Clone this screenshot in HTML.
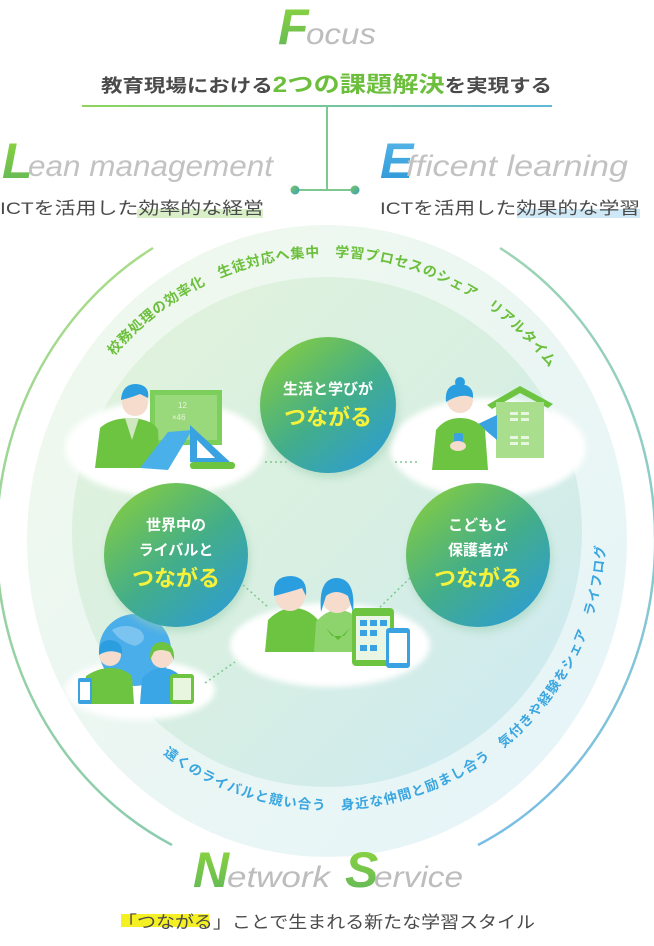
<!DOCTYPE html>
<html><head><meta charset="utf-8">
<style>
html,body{margin:0;padding:0;background:#fff;}
svg{display:block;}
text{font-family:"Liberation Sans","Noto Sans CJK JP",sans-serif;}
</style></head>
<body>
<svg width="654" height="946" viewBox="0 0 654 946" xmlns="http://www.w3.org/2000/svg">
<defs>
  <linearGradient id="gF" x1="0" y1="0" x2="0" y2="1"><stop offset="0" stop-color="#8fd63c"/><stop offset="1" stop-color="#5fb65a"/></linearGradient>
  <linearGradient id="gE" x1="0" y1="0" x2="0" y2="1"><stop offset="0" stop-color="#5ab8e8"/><stop offset="1" stop-color="#2a96d6"/></linearGradient>
  <linearGradient id="gLine" x1="0" y1="0" x2="1" y2="0"><stop offset="0" stop-color="#8ed45a"/><stop offset="1" stop-color="#5fb8d8"/></linearGradient>
  <linearGradient id="gDot" x1="0" y1="0" x2="1" y2="1"><stop offset="0" stop-color="#7cc860"/><stop offset="1" stop-color="#3aa0b8"/></linearGradient>
  <linearGradient id="gArcL" x1="0" y1="0" x2="0" y2="1"><stop offset="0" stop-color="#a8dc88"/><stop offset="1" stop-color="#8cccb0"/></linearGradient>
  <linearGradient id="gArcR" x1="0" y1="0" x2="0" y2="1"><stop offset="0" stop-color="#9cd4b4"/><stop offset="1" stop-color="#78bee6"/></linearGradient>
  <linearGradient id="gBand" x1="0" y1="0" x2="1" y2="1"><stop offset="0" stop-color="#f0f9ec"/><stop offset="1" stop-color="#e6f4fa"/></linearGradient>
  <linearGradient id="gInner" x1="0" y1="0" x2="1" y2="1"><stop offset="0" stop-color="#e2f3dc"/><stop offset="0.5" stop-color="#d8efe2"/><stop offset="1" stop-color="#cce9f3"/></linearGradient>
  <linearGradient id="gC" x1="0.15" y1="0.1" x2="0.85" y2="0.95"><stop offset="0" stop-color="#7cc94a"/><stop offset="0.5" stop-color="#44ae88"/><stop offset="1" stop-color="#2e9ecf"/></linearGradient>
  <filter id="blur" x="-20%" y="-20%" width="140%" height="140%"><feGaussianBlur stdDeviation="3"/></filter>
  <filter id="sh" x="-20%" y="-20%" width="140%" height="140%"><feGaussianBlur stdDeviation="4"/></filter>
  <path id="topPath" d="M114,356 A278,278 0 0 1 562,386"/>
  <path id="botPath" d="M163,754 A276,276 0 0 0 604,506"/>
</defs>

<!-- Header -->
<text x="278" y="44" font-size="50" font-style="italic" font-weight="bold" fill="url(#gF)">F</text>
<text x="306" y="44" font-size="30" font-style="italic" fill="#bdbdbd" textLength="70" lengthAdjust="spacingAndGlyphs">ocus</text>
<text x="101" y="92" font-size="18" font-weight="bold" fill="#4a4a4a" textLength="451" lengthAdjust="spacingAndGlyphs">教育現場における<tspan font-size="22" fill="#6cbf3c">2つの課題解決</tspan>を実現する</text>
<rect x="82" y="105" width="470" height="2" fill="url(#gLine)"/>
<rect x="326" y="106" width="2" height="85" fill="#7cc890"/>
<rect x="294" y="189" width="61" height="2" fill="#7cc890"/>
<circle cx="295" cy="190" r="4.5" fill="url(#gDot)"/>
<circle cx="355" cy="190" r="4.5" fill="url(#gDot)"/>

<text x="2" y="178" font-size="50" font-style="italic" font-weight="bold" fill="url(#gF)">L</text>
<text x="28" y="176" font-size="30" font-style="italic" fill="#c2c2c2" textLength="245" lengthAdjust="spacingAndGlyphs">ean management</text>
<rect x="137" y="209" width="126" height="9" fill="#d8efc8"/>
<text x="0" y="214" font-size="17" fill="#4a4a4a" textLength="264" lengthAdjust="spacingAndGlyphs">ICTを活用した効率的な経営</text>

<text x="380" y="178" font-size="50" font-style="italic" font-weight="bold" fill="url(#gE)">E</text>
<text x="406" y="176" font-size="30" font-style="italic" fill="#c2c2c2" textLength="222" lengthAdjust="spacingAndGlyphs">fficent learning</text>
<rect x="517" y="209" width="123" height="9" fill="#cfe8f6"/>
<text x="380" y="214" font-size="17" fill="#4a4a4a" textLength="260" lengthAdjust="spacingAndGlyphs">ICTを活用した効果的な学習</text>

<!-- Big circle -->
<ellipse cx="327" cy="541" rx="300" ry="316" fill="url(#gBand)"/>
<circle cx="327" cy="532" r="255" fill="url(#gInner)"/>
<path d="M153,248 A312,338 0 0 0 172,845" fill="none" stroke="url(#gArcL)" stroke-width="2.5"/>
<path d="M500,248 A312,338 0 0 1 478,845" fill="none" stroke="url(#gArcR)" stroke-width="2.5"/>

<text font-size="14" font-weight="bold" fill="#6cbf3c"><textPath href="#topPath" textLength="500" lengthAdjust="spacing">校務処理の効率化　生徒対応へ集中　学習プロセスのシェア　リアルタイム</textPath></text>
<text font-size="13.5" font-weight="bold" fill="#3aa6e0"><textPath href="#botPath" textLength="600" lengthAdjust="spacing">遠くのライバルと競い合う　身近な仲間と励まし合う　気付きや経験をシェア　ライフログ</textPath></text>

<!-- clouds -->
<g filter="url(#blur)" fill="#ffffff">
  <ellipse cx="165" cy="448" rx="100" ry="48"/>
  <ellipse cx="488" cy="448" rx="98" ry="50"/>
  <ellipse cx="330" cy="645" rx="100" ry="42"/>
  <ellipse cx="140" cy="690" rx="75" ry="30"/>
</g>

<!-- dotted connectors -->
<g stroke="#7cc890" stroke-width="1.5" stroke-dasharray="2,3" fill="none">
  <line x1="265" y1="462" x2="290" y2="462"/>
  <line x1="395" y1="462" x2="420" y2="462"/>
  <line x1="243" y1="585" x2="268" y2="607"/>
  <line x1="410" y1="578" x2="375" y2="612"/>
  <line x1="205" y1="683" x2="235" y2="662"/>
</g>

<!-- teacher -->
<rect x="150" y="390" width="72" height="55" fill="#7ccf5a"/>
<rect x="155" y="395" width="62" height="45" fill="#9ad87c"/>
<text x="178" y="408" font-size="8" fill="#e6f5dc">12</text>
<text x="172" y="420" font-size="8" fill="#e6f5dc">×46</text>
<path d="M95,468 L100,428 Q110,418 132,418 Q154,420 158,430 L160,468Z" fill="#6cc440"/>
<path d="M125,418 L132,440 L139,418Z" fill="#cfe8c0"/>
<circle cx="135" cy="403" r="13" fill="#f5dccc"/>
<path d="M121,400 Q122,384 136,384 Q150,385 148,398 L140,394 Q130,398 121,400Z" fill="#2b9ee0"/>
<path d="M140,468 L168,432 L192,430 L168,470Z" fill="#4ab0ea"/>
<path d="M190,425 L230,462 L190,462Z" fill="#3aa2e0"/>
<path d="M197,440 L215,458 L197,458Z" fill="#ffffff"/>
<rect x="190" y="462" width="45" height="7" rx="3" fill="#6cc440"/>

<!-- mother & house -->
<path d="M487,405 L520,386 L553,404 L548,408 L520,393 L492,409Z" fill="#6cc440"/>
<rect x="496" y="402" width="48" height="56" fill="#a9df8c"/>
<g fill="#e8f6e0"><rect x="510" y="412" width="8" height="3"/><rect x="521" y="412" width="8" height="3"/><rect x="510" y="418" width="8" height="3"/><rect x="521" y="418" width="8" height="3"/><rect x="510" y="436" width="8" height="3"/><rect x="521" y="436" width="8" height="3"/><rect x="510" y="442" width="8" height="3"/><rect x="521" y="442" width="8" height="3"/></g>
<path d="M478,424 L497,415 L497,440Z" fill="#3aa2e0"/>
<path d="M432,470 L436,430 Q445,418 460,418 Q476,418 485,430 L488,470Z" fill="#6cc440"/>
<circle cx="460" cy="400" r="13" fill="#f5dccc"/>
<path d="M446,402 Q444,384 460,384 Q474,385 473,398 Q462,392 446,402Z" fill="#2b9ee0"/>
<circle cx="460" cy="382" r="5" fill="#2b9ee0"/>
<rect x="454" y="433" width="9" height="14" rx="2" fill="#3aa2e0"/>
<ellipse cx="458" cy="446" rx="8" ry="5" fill="#f5dccc"/>

<!-- globe group -->
<circle cx="135" cy="650" r="36" fill="#4aaeea"/>
<path d="M112,630 Q125,622 140,630 Q150,640 135,646 Q120,642 112,630Z" fill="#7cc4f0"/>
<path d="M82,704 L86,676 Q98,668 110,668 Q124,668 132,676 L134,704Z" fill="#6cc440"/>
<path d="M140,704 L142,678 Q152,668 162,668 Q174,668 182,678 L184,704Z" fill="#3aa6e6"/>
<circle cx="110" cy="655" r="11" fill="#f5dccc"/>
<path d="M99,655 Q98,640 110,640 Q123,641 122,654 Q110,648 99,655Z" fill="#2b9ee0"/>
<circle cx="162" cy="657" r="11" fill="#f5dccc"/>
<path d="M150,660 Q149,642 162,642 Q175,643 174,660 L170,652 Q160,648 154,652Z" fill="#6cc440"/>
<rect x="78" y="678" width="14" height="26" rx="2" fill="#3aa2e0"/><rect x="80" y="682" width="10" height="18" fill="#fff"/>
<rect x="170" y="674" width="24" height="30" rx="3" fill="#6cc440"/><rect x="173" y="678" width="18" height="22" fill="#e8f6e0"/>

<!-- students -->
<path d="M265,652 L268,620 Q280,608 293,608 Q308,608 318,620 L320,652Z" fill="#6cc440"/>
<circle cx="290" cy="596" r="15" fill="#f5dccc"/>
<path d="M274,596 Q272,576 291,576 Q308,577 306,596 L302,588 Q290,592 274,596Z" fill="#2b9ee0"/>
<path d="M314,652 L316,622 Q326,610 338,610 Q352,610 360,622 L362,652Z" fill="#8dd46c"/>
<path d="M326,628 L338,640 L350,628 L344,636 L332,636Z" fill="#5cb830"/>
<circle cx="337" cy="598" r="15" fill="#f5dccc"/>
<path d="M321,612 Q318,578 337,578 Q356,579 353,612 L348,596 Q336,588 326,596Z" fill="#2b9ee0"/>
<rect x="352" y="608" width="42" height="58" rx="4" fill="#6cc440"/>
<rect x="356" y="616" width="34" height="44" fill="#eaf6e4"/>
<g fill="#3aa2e0"><rect x="360" y="620" width="7" height="6"/><rect x="370" y="620" width="7" height="6"/><rect x="380" y="620" width="7" height="6"/><rect x="360" y="630" width="7" height="6"/><rect x="370" y="630" width="7" height="6"/><rect x="360" y="645" width="7" height="6"/><rect x="370" y="645" width="7" height="6"/></g>
<rect x="386" y="628" width="24" height="40" rx="3" fill="#3aa2e0"/>
<rect x="389" y="633" width="18" height="30" fill="#fff"/>

<!-- big circles -->
<g filter="url(#sh)" fill="#9acfb0" opacity="0.5">
  <circle cx="330" cy="410" r="68"/><circle cx="178" cy="560" r="72"/><circle cx="480" cy="560" r="72"/>
</g>
<circle cx="328" cy="405" r="68" fill="url(#gC)"/>
<circle cx="176" cy="555" r="72" fill="url(#gC)"/>
<circle cx="478" cy="555" r="72" fill="url(#gC)"/>
<g text-anchor="middle" font-weight="bold">
  <text x="328" y="394" font-size="15" fill="#ffffff">生活と学びが</text>
  <text x="328" y="425" font-size="22" fill="#f6f23a">つながる</text>
  <text x="176" y="530" font-size="15" fill="#ffffff">世界中の</text>
  <text x="176" y="555" font-size="15" fill="#ffffff">ライバルと</text>
  <text x="176" y="586" font-size="22" fill="#f6f23a">つながる</text>
  <text x="478" y="530" font-size="15" fill="#ffffff">こどもと</text>
  <text x="478" y="555" font-size="15" fill="#ffffff">保護者が</text>
  <text x="478" y="586" font-size="22" fill="#f6f23a">つながる</text>
</g>

<!-- footer -->
<text x="193" y="887" font-size="50" font-style="italic" font-weight="bold" fill="url(#gF)">N</text>
<text x="227" y="887" font-size="30" font-style="italic" fill="#bdbdbd" textLength="103" lengthAdjust="spacingAndGlyphs">etwork</text>
<text x="345" y="887" font-size="50" font-style="italic" font-weight="bold" fill="url(#gF)">S</text>
<text x="374" y="887" font-size="30" font-style="italic" fill="#bdbdbd" textLength="89" lengthAdjust="spacingAndGlyphs">ervice</text>
<rect x="121" y="914" width="88" height="13" fill="#f4f024"/>
<text x="118" y="928" font-size="17" fill="#4a4a4a" textLength="417" lengthAdjust="spacingAndGlyphs">「つながる」ことで生まれる新たな学習スタイル</text>
</svg>
</body></html>
